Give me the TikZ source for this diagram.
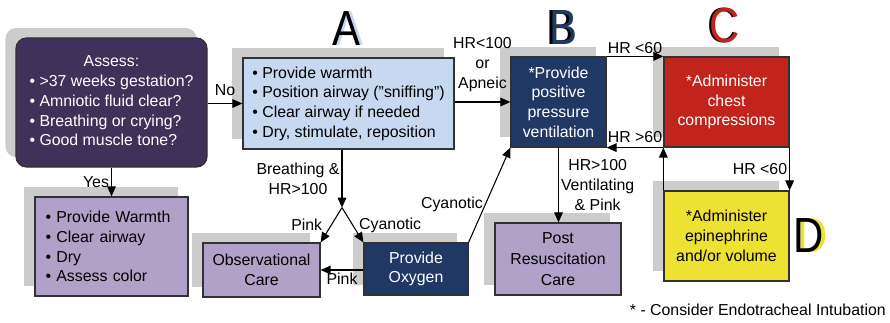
\documentclass[tikz,border=0pt]{standalone}
\usepackage{fontspec}
\setmainfont{Liberation Sans}
\usetikzlibrary{arrows.meta,shadows,calc}

\definecolor{assesscol}{RGB}{63,49,89}
\definecolor{lilac}{RGB}{177,160,200}
\definecolor{paleblue}{RGB}{198,217,240}
\definecolor{navy}{RGB}{31,57,100}
\definecolor{cprred}{RGB}{192,36,27}
\definecolor{epiyellow}{RGB}{237,226,50}
\definecolor{shadowgray}{RGB}{203,204,203}
\definecolor{boxline}{RGB}{50,50,50}

% a letter drawn over an offset copy of itself in another colour
\newcommand{\echoletter}[4]{\rlap{\kern#1\textcolor{#2}{#4}}\textcolor{#3}{#4}}

\begin{document}
\begin{tikzpicture}[x=0.75pt,y=-0.75pt,
  font=\fontsize{11.9pt}{14.8pt}\selectfont,
  box/.style={draw=boxline, line width=0.9pt, inner sep=0pt, align=center,
    drop shadow={shadow xshift=-7.9pt, shadow yshift=7.5pt, fill=shadowgray, opacity=1}},
  arr/.style={draw=black, line width=0.8pt, -{Triangle[length=7.5pt,width=6.5pt]}},
  lbl/.style={inner sep=1.5pt, align=center},
  bigletter/.style={font=\fontsize{37pt}{37pt}\selectfont, xscale=0.85, inner sep=0pt}
]
\useasboundingbox (0,0) rectangle (890,322);

% step letters
\node[bigletter] (letA) at (346,28.5) {\echoletter{3pt}{paleblue}{black}{A}};
\node[bigletter] (letB) at (563,27.5) {\echoletter{-2pt}{black}{navy}{B}};
\node[bigletter] (letC) at (725,26) {\echoletter{-2pt}{black}{cprred}{C}};
\node[bigletter] (letD) at (809,236) {\echoletter{3pt}{epiyellow}{black}{D}};

% boxes
\node[box, fill=assesscol, text=white, rounded corners=8pt,
      minimum width=143.3pt, minimum height=96.8pt] (assess) at (111.5,102.5)
  {\begin{tabular}{@{}l@{}}\multicolumn{1}{@{}c@{}}{Assess:}\\
   \textbullet\ >37 weeks gestation?\\
   \textbullet\ Amniotic fluid clear?\\
   \textbullet\ Breathing or crying?\\
   \textbullet\ Good muscle tone?\end{tabular}};

\node[box, fill=lilac, minimum width=114.8pt, minimum height=74.3pt,
      align=left, text width=99pt] (routine) at (111.5,246.5)
  {\textbullet\ Provide Warmth\\ \textbullet\ Clear airway\\ \textbullet\ Dry\\ \textbullet\ Assess color};

\node[box, fill=lilac, minimum width=87.8pt, minimum height=40.5pt] (obs) at (261.5,270)
  {Observational\\Care};

\node[box, fill=paleblue, minimum width=158.3pt, minimum height=68.3pt, align=left] (A) at (348.5,103.5)
  {\textbullet\ Provide warmth\\ \textbullet\ Position airway (”sniffing”)\\
   \textbullet\ Clear airway if needed\\ \textbullet\ Dry, stimulate, reposition};

\node[box, fill=navy, text=white, minimum width=71.3pt, minimum height=67.5pt] (B) at (558.5,102)
  {*Provide\\positive\\pressure\\ventilation};

\node[box, fill=cprred, text=white, minimum width=93.8pt, minimum height=67.5pt] (C) at (726.5,102)
  {*Administer\\chest\\compressions};

\node[box, fill=epiyellow, minimum width=93.8pt, minimum height=67.5pt] (D) at (726.5,236)
  {*Administer\\epinephrine\\and/or volume};

\node[box, fill=navy, text=white, minimum width=78pt, minimum height=39pt] (oxy) at (416,269)
  {Provide\\Oxygen};

\node[box, fill=lilac, minimum width=94.5pt, minimum height=54pt] (post) at (558,259)
  {Post\\[1pt]Resuscitation\\[1pt]Care};

\node[lbl, anchor=east] (note) at (888,310) {* - Consider Endotracheal Intubation};

% connectors
\draw[arr] (A.west -| assess.east) -- (A.west) node[lbl, midway, above=4pt] {No};
\draw[arr] (assess.south) -- (routine.north) node[lbl, midway, left] {Yes};

\coordinate (split) at ($(A.south)+(-6.5,58)$);
\draw[arr] (split |- A.south) -- (split) node[lbl, midway, left] {Breathing \&\\HR>100};
\draw[arr] (split) -- (obs.north east) node[lbl, midway, left=5pt] {Pink};
\draw[arr] (split) -- (oxy.north west) node[lbl, midway, right=3pt] {Cyanotic};
\draw[arr] (oxy.west |- obs.east) -- (obs.east) node[lbl, midway, below] {Pink};
\draw[arr] (oxy.north east) -- (B.south west) node[lbl, pos=0.4, left] {Cyanotic};

\draw[arr] (B.west -| A.east) -- (B.west) node[lbl, midway, above=6pt] {HR<100\\or\\Apneic};
\draw[arr] (B.north east) -- (C.north west) node[lbl, midway, above] {HR <60};
\draw[arr] (C.south west) -- (B.south east) node[lbl, midway, above=2pt] {HR >60};
\draw[arr] (C.south east) -- (D.north east) node[lbl, midway, left] {HR <60};
\draw[arr] (D.north west) -- (C.south west);
\draw[arr] (B.south) -- (B.south |- post.north) node[lbl, midway, right] {HR>100\\Ventilating\\\& Pink};

\end{tikzpicture}
\end{document}
